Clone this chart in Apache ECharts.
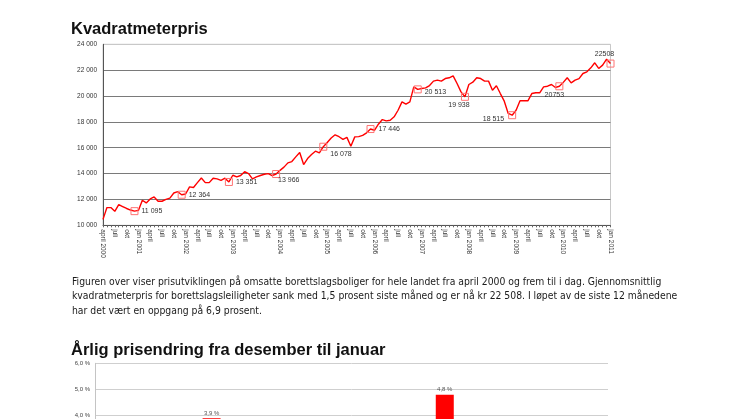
<!DOCTYPE html>
<html><head><meta charset="utf-8">
<script src="https://cdn.jsdelivr.net/npm/echarts@6/dist/echarts.min.js"></script>
<style>html,body{margin:0;padding:0;background:#fff;overflow:hidden}#c{width:746px;height:419px}</style>
</head><body><div id="c"></div>
<script>
// ---- data ----
const monthNames = ['jan','feb','mars','april','mai','juni','juli','aug','sep','okt','nov','des'];
const startYear = 2000;
const startMonthIndex = 3; // april
const prices = [
  10460,11370,11370,11080,11600,11450,11300,11180,11095,
  11150,11935,11730,12040,12190,11860,11860,12000,12100,12500,12600,12364,
  12420,12970,12920,13300,13660,13300,13300,13640,13590,13480,13640,13351,
  13872,13740,13850,14150,14000,13590,13740,13850,13950,14000,13850,13966,
  14250,14500,14830,14930,15290,15630,14700,15160,15470,15730,15600,16078,
  16400,16750,17000,16850,16650,16800,16120,16840,16860,16950,17150,17446,
  17350,17820,18180,18080,18130,18390,18900,19550,19370,19550,20710,20513,
  20580,20630,20810,21150,21230,21150,21350,21410,21560,20970,20320,19938,
  20890,21070,21410,21350,21150,21150,20450,20790,20190,19600,18650,18515,
  18900,19630,19630,19630,20190,20250,20250,20710,20760,20890,20660,20753,
  21055,21410,21020,21230,21350,21740,21870,22180,22570,22130,22390,22850,
  22508
];
const markIndex = [8,20,32,44,56,68,80,92,104,116,129];
const markText = ['11 095','12 364','13 351','13 966','16 078','17 446','20 513','19 938','18 515','20753','22508'];
const priceTicks = [10000,12000,14000,16000,18000,20000,22000,24000];
const barYears = ['2001','2002','2003','2004','2005','2006','2007','2008','2009','2010','2011'];
const barChanges = [0.5,0.5,3.9,2.0,2.0,-0.5,0.3,4.8,2.1,1.5,-1.5];
const barTicks = [-2,-1,0,1,2,3,4,5,6];
const paragraphLines = [
  'Figuren over viser prisutviklingen på omsatte borettslagsboliger for hele landet fra april 2000 og frem til i dag. Gjennomsnittlig',
  'kvadratmeterpris for borettslagsleiligheter sank med 1,5 prosent siste måned og er nå kr 22 508. I løpet av de siste 12 månedene',
  'har det vært en oppgang på 6,9 prosent.'
];

// ---- build ----
const categories = prices.map((_, i) => {
  const m = (startMonthIndex + i) % 12;
  const y = startYear + Math.floor((startMonthIndex + i) / 12);
  return (i === 0 || m === 0) ? monthNames[m] + ' ' + y : monthNames[m];
});
const labelPlace = [
  {position:'right', offset:[-2,0]},
  {position:'right', offset:[-2,0]},
  {position:'right', offset:[-2,0]},
  {position:'right', offset:[-7,6]},
  {position:'right', offset:[-2,7]},
  {position:'right', offset:[-1,0]},
  {position:'right', offset:[-2,3]},
  {position:'bottom', offset:[-6,-4]},
  {position:'left', offset:[1,4]},
  {position:'bottom', offset:[-5,-4]},
  {position:'top', offset:[-6,3]}
];
const lineData = prices.map((v, i) => {
  const k = markIndex.indexOf(i);
  if (k < 0) return v;
  return {
    value: v, symbol: 'rect', symbolSize: 7,
    label: Object.assign({show: true, formatter: () => markText[k]}, labelPlace[k])
  };
});
const fmtThousand = v => String(v).replace(/\B(?=(\d{3})+(?!\d))/g, ' ');
const gridColors = priceTicks.map((t, i) => i === priceTicks.length - 1 ? '#c8c8c8' : '#7a7a7a');

const chart = echarts.init(document.getElementById('c'), null, {renderer: 'canvas'});
chart.setOption({
  animation: false,
  textStyle: {fontFamily: '"Liberation Sans", Arial, sans-serif'},
  title: [
    {text: 'Kvadratmeterpris', left: 71, top: 21, padding: 0,
     textStyle: {fontFamily: '"Liberation Sans", Arial, sans-serif', fontWeight: 'bold', fontSize: 16.5, color: '#111', lineHeight: 16}},
    {text: 'Årlig prisendring fra desember til januar', left: 71, top: 342, padding: 0,
     textStyle: {fontFamily: '"Liberation Sans", Arial, sans-serif', fontWeight: 'bold', fontSize: 16.5, color: '#111', lineHeight: 16}}
  ],
  graphic: [{
    type: 'text', left: 72, top: 275,
    style: {text: paragraphLines.join('\n'), font: '10.3px "Liberation Sans Narrow", "DejaVu Sans Condensed", sans-serif', lineHeight: 14.5, fill: '#1a1a1a'}
  }],
  grid: [
    {left: 103, top: 44.3, width: 507.5, height: 181, show: true, borderColor: '#c8c8c8', borderWidth: 1,
     containLabel: false, outerBoundsMode: 'none'},
    {left: 95, top: 363.3, width: 513, height: 209.6, containLabel: false, outerBoundsMode: 'none'}
  ],
  xAxis: [
    {type: 'category', gridIndex: 0, data: categories, boundaryGap: false,
     axisLine: {lineStyle: {color: '#555', width: 1}},
     axisTick: {show: true, interval: 0, length: 2, lineStyle: {color: '#666'}},
     axisLabel: {interval: 2, rotate: -90, fontSize: 6.5, color: '#333', margin: 4}},
    {type: 'category', gridIndex: 1, data: barYears,
     axisLine: {lineStyle: {color: '#bbb'}}, axisTick: {show: false},
     axisLabel: {fontSize: 6.5, color: '#333'}}
  ],
  yAxis: [
    {type: 'value', gridIndex: 0, min: priceTicks[0], max: priceTicks[priceTicks.length - 1], interval: 2000,
     axisLine: {show: true, lineStyle: {color: '#555'}}, axisTick: {show: false},
     axisLabel: {fontSize: 6.5, color: '#333', margin: 6, formatter: fmtThousand},
     splitLine: {show: true, lineStyle: {color: gridColors, width: 1.2}}},
    {type: 'value', gridIndex: 1, min: barTicks[0], max: barTicks[barTicks.length - 1], interval: 1,
     axisLine: {show: true, lineStyle: {color: '#c4c4c4'}}, axisTick: {show: false},
     axisLabel: {fontSize: 6, color: '#444', margin: 5, formatter: v => v.toFixed(1).replace('.', ',') + ' %'},
     splitLine: {show: true, lineStyle: {color: '#cfcfcf', width: 1}}}
  ],
  series: [
    {type: 'line', xAxisIndex: 0, yAxisIndex: 0, data: lineData,
     symbol: 'none', showSymbol: true, showAllSymbol: true,
     lineStyle: {color: '#ff0000', width: 1.4},
     itemStyle: {color: 'rgba(255,255,255,0)', borderColor: '#ff7373', borderWidth: 1},
     label: {fontSize: 7, color: '#333', distance: 5},
     emphasis: {disabled: true}},
    {type: 'bar', xAxisIndex: 1, yAxisIndex: 1, data: barChanges, barWidth: 18,
     itemStyle: {color: '#ff0000'},
     label: {show: true, position: 'top', distance: 2, fontSize: 6, color: '#555',
             formatter: p => p.value.toFixed(1).replace('.', ',') + ' %'},
     emphasis: {disabled: true}}
  ]
});
</script></body></html>
